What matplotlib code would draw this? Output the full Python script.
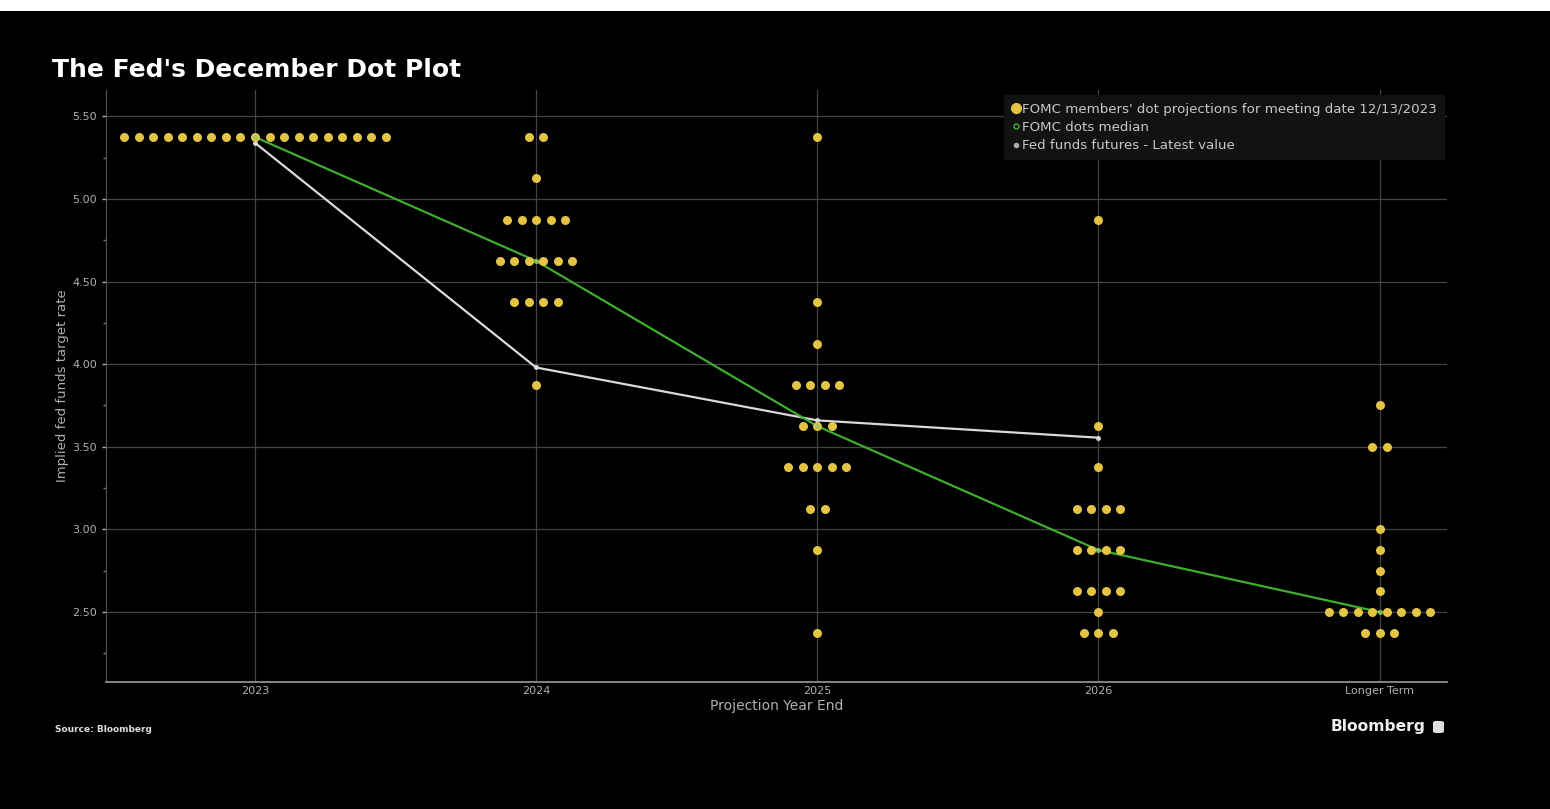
import numpy as np
import matplotlib
matplotlib.use("Agg")
import matplotlib.pyplot as plt
from matplotlib.lines import Line2D
from matplotlib.patches import Rectangle, FancyBboxPatch

# categories on the x axis
categories = ['2023', '2024', '2025', '2026', 'Longer Term']

# FOMC dots: (rate, number of members) for each category
dots_2023 = [(5.375, 19)]
dots_2024 = [(5.375, 2), (5.125, 1), (4.875, 5), (4.625, 6), (4.375, 4), (3.875, 1)]
dots_2025 = [(5.375, 1), (4.375, 1), (4.125, 1), (3.875, 4), (3.625, 3),
             (3.375, 5), (3.125, 2), (2.875, 1), (2.375, 1)]
dots_2026 = [(4.875, 1), (3.625, 1), (3.375, 1), (3.125, 4), (2.875, 4),
             (2.625, 4), (2.5, 1), (2.375, 3)]
dots_long = [(3.75, 1), (3.5, 2), (3.0, 1), (2.875, 1), (2.75, 1),
             (2.625, 1), (2.5, 8), (2.375, 3)]
all_dots = [dots_2023, dots_2024, dots_2025, dots_2026, dots_long]

# medians and futures
median_vals = [5.375, 4.625, 3.625, 2.875, 2.5]
futures_vals = [5.34, 3.98, 3.66, 3.555]

y_ticks = [2.50, 3.00, 3.50, 4.00, 4.50, 5.00, 5.50]

DOT_STEP = 0.0516
YELLOW = '#e3c445'
GREEN = '#3fae2f'
WHITE_LINE = '#d9d9d9'
GRID = '#444444'
TXT = '#b0b0b0'

fig = plt.figure(figsize=(15.5, 8.09), dpi=100, facecolor='black')
# white strip at top of screenshot
fig.patches.append(Rectangle((0, 1 - 11/809), 1, 11/809, transform=fig.transFigure,
                             facecolor='white', edgecolor='none', zorder=-5))

ax = fig.add_axes([106/1550, 1 - 682/809, (1447-106)/1550, (682-90)/809])
ax.set_facecolor('black')

xs, ys = [], []
for i, group in enumerate(all_dots):
    for rate, n in group:
        for k in range(n):
            xs.append(i + (k - (n - 1) / 2) * DOT_STEP)
            ys.append(rate)

ax.plot(range(len(futures_vals)), futures_vals, color=WHITE_LINE, lw=1.6, zorder=3,
        marker='o', ms=2.5, mfc=WHITE_LINE, mec=WHITE_LINE)
ax.plot(range(len(median_vals)), median_vals, color=GREEN, lw=1.6, zorder=4)
ax.scatter(xs, ys, s=42, color=YELLOW, zorder=5, linewidths=0)
ax.scatter(range(len(median_vals)), median_vals, s=14, color='#9ccc65', zorder=6, linewidths=0, alpha=0.8)

ax.set_xlim(-0.53, 4.24)
ax.set_ylim(2.076, 5.66)
ax.set_xticks(range(len(categories)))
ax.set_xticklabels(categories)
ax.set_yticks(y_ticks)
ax.set_yticklabels(['%.2f' % v for v in y_ticks])
ax.set_yticks(np.arange(2.25, 5.6, 0.25), minor=True)

ax.grid(True, which='major', color=GRID, lw=0.9)
ax.set_axisbelow(True)
ax.tick_params(axis='both', colors=TXT, labelsize=8, length=3, width=1)
ax.tick_params(axis='y', which='minor', colors='#777777', length=2, width=1)
ax.tick_params(axis='x', length=0, pad=3)

for s in ['top', 'right']:
    ax.spines[s].set_visible(False)
ax.spines['left'].set_color('#555555')
ax.spines['bottom'].set_color('#9a9a9a')
ax.spines['bottom'].set_linewidth(1.2)

ax.set_xlabel('Projection Year End', color=TXT, fontsize=10, labelpad=2)
ax.set_ylabel('Implied fed funds target rate', color=TXT, fontsize=9.5, labelpad=2)

handles = [
    Line2D([], [], ls='none', marker='o', ms=7, mfc=YELLOW, mec=YELLOW),
    Line2D([], [], ls='none', marker='o', ms=3.5, mfc='none', mec=GREEN),
    Line2D([], [], ls='none', marker='o', ms=3, mfc='#aaaaaa', mec='#aaaaaa'),
]
labels = ["FOMC members' dot projections for meeting date 12/13/2023",
          'FOMC dots median',
          'Fed funds futures - Latest value']
leg = ax.legend(handles, labels, loc='upper right', bbox_to_anchor=(0.9985, 0.992),
                borderaxespad=0, frameon=True, fontsize=9.6, handlelength=0.6,
                handletextpad=0.2, labelspacing=0.4, borderpad=0.6, fancybox=False)
leg.get_frame().set_facecolor('#121212')
leg.get_frame().set_edgecolor('none')
leg.get_frame().set_alpha(1)
for t in leg.get_texts():
    t.set_color('#c8c8c8')

fig.text(52/1550, 1 - 70/809, "The Fed's December Dot Plot", color='white',
         fontsize=18, fontweight='bold', va='center', ha='left')
fig.text(55/1550, 1 - 729/809, 'Source: Bloomberg', color='#dddddd',
         fontsize=6.5, fontweight='bold', va='center', ha='left')
fig.text(1426/1550, 1 - 727/809, 'Bloomberg', color='#eeeeee',
         fontsize=11.2, fontweight='semibold', va='center', ha='right')
fig.patches.append(FancyBboxPatch((1433/1550, 1 - 733/809), 11/1550, 12/809,
                                  boxstyle='round,pad=0.0,rounding_size=0.002',
                                  transform=fig.transFigure, facecolor='#dddddd',
                                  edgecolor='none'))

fig.savefig('out.png', dpi=100, facecolor=fig.get_facecolor())
